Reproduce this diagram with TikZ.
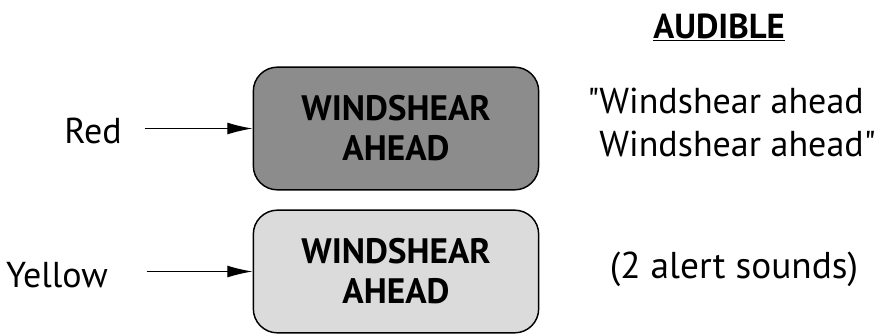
\documentclass[tikz,border=0pt]{standalone}
\usepackage{fontspec}
\setmainfont{PT Sans}
\usepackage{tikz}
\usetikzlibrary{positioning,arrows.meta}
\usepackage{xcolor}
\definecolor{redfill}{gray}{0.55}
\definecolor{yellowfill}{gray}{0.86}
\tikzset{
  alertbox/.style={draw=black,line width=1.1pt,rounded corners=18pt,inner sep=0pt,
    minimum width=214pt,minimum height=92pt,align=center,
    font=\bfseries\fontsize{26.5}{30}\selectfont},
  lbl/.style={inner sep=0pt,font=\fontsize{27}{32}\selectfont},
}

\begin{document}
\begin{tikzpicture}[x=0.75pt,y=-0.75pt,>={Latex[length=19pt,width=9pt]}]
\useasboundingbox (0,0) rectangle (880,333);
\node[alertbox,fill=redfill] (redbox) at (396,128.5) {WINDSHEAR\\AHEAD};
\node[alertbox,fill=yellowfill] (yellowbox) at (396,271.5) {WINDSHEAR\\AHEAD};
\node[lbl,anchor=base east] (redlbl) at (122,143) {Red};
\node[lbl,anchor=base east] (yellowlbl) at (108,287) {Yellow};
\draw[->,line width=1pt,shorten <=17pt] (redlbl.east |- redbox) -- (redbox);
\draw[->,line width=1pt,shorten <=29pt] (yellowlbl.east |- yellowbox) -- (yellowbox);
\node[inner sep=0pt,anchor=base,font=\bfseries\fontsize{26}{30}\selectfont] (audible) at (719,38) {\underline{AUDIBLE}};
\node[lbl,anchor=north west,align=left,font=\fontsize{27}{32}\selectfont] (voice) at (587,88) {\textquotedbl Windshear ahead\\\phantom{\textquotedbl}Windshear ahead\textquotedbl};
\node[lbl,anchor=base,font=\fontsize{28}{32}\selectfont] (sounds) at (734,278) {(2 alert sounds)};
\end{tikzpicture}
\end{document}
